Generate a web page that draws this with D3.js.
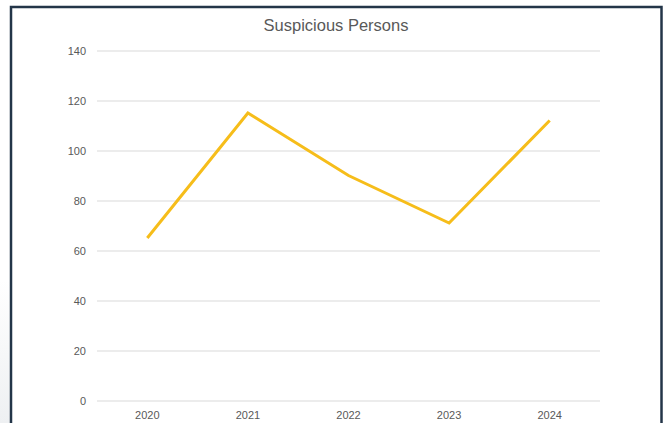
<!DOCTYPE html>
<html>
<head>
<meta charset="utf-8">
<script src="https://cdn.jsdelivr.net/npm/d3@7"></script>
<style>
body { margin: 0; background: #fff; }
svg { display: block; }
.tick text { fill: #595959; font-family: "Helvetica Neue", Arial, "Liberation Sans", sans-serif; }
</style>
</head>
<body>
<svg id="chart"></svg>
<script>
var width = 664;
var height = 423;

var years = ["2020", "2021", "2022", "2023", "2024"];
var counts = [65, 115, 90, 71, 112];
var yTicks = [0, 20, 40, 60, 80, 100, 120, 140];

var plotLeft = 97, plotRight = 600, plotTop = 50.5, plotBottom = 400.5;

var svg = d3.select("#chart")
	.attr("width", width)
	.attr("height", height);

// faint shadow lower left
var grad = svg.append("defs").append("linearGradient")
	.attr("id", "shade").attr("x1", 0).attr("y1", 0).attr("x2", 0).attr("y2", 1);
grad.append("stop").attr("offset", "0%").attr("stop-color", "#fff");
grad.append("stop").attr("offset", "100%").attr("stop-color", "#eef0f2");
svg.append("rect")
	.attr("x", 0).attr("y", 280)
	.attr("width", 11).attr("height", 143)
	.attr("fill", "url(#shade)");

// frame
svg.append("rect")
	.attr("x", 11).attr("y", 7)
	.attr("width", 650.5).attr("height", 430)
	.attr("fill", "#fff")
	.attr("stroke", "#233548")
	.attr("stroke-width", 2.5);

var x = d3.scaleBand()
	.domain(years)
	.range([plotLeft, plotRight]);

var y = d3.scaleLinear()
	.domain([0, 140])
	.range([plotBottom, plotTop]);

var yAxis = svg.append("g")
	.attr("transform", "translate(" + plotLeft + ",0)")
	.call(d3.axisLeft(y).tickValues(yTicks).tickSize(-(plotRight - plotLeft)).tickPadding(11));
yAxis.select(".domain").remove();
yAxis.selectAll(".tick line").attr("stroke", "#d9d9d9").attr("stroke-width", 1);
yAxis.selectAll(".tick text").attr("font-size", 11);

var xAxis = svg.append("g")
	.attr("transform", "translate(0," + plotBottom + ")")
	.call(d3.axisBottom(x).tickSize(0).tickPadding(10.5));
xAxis.select(".domain").remove();
xAxis.selectAll(".tick text").attr("font-size", 11);

var line = d3.line()
	.x(function(d, i) { return x(years[i]) + x.bandwidth() / 2; })
	.y(function(d) { return y(d); });

svg.append("path")
	.datum(counts)
	.attr("fill", "none")
	.attr("stroke", "#f6bd1a")
	.attr("stroke-width", 3)
	.attr("stroke-linejoin", "miter")
	.attr("d", line);

svg.append("text")
	.attr("x", 336)
	.attr("y", 31)
	.attr("text-anchor", "middle")
	.attr("font-family", "\"Helvetica Neue\", Arial, \"Liberation Sans\", sans-serif")
	.attr("font-size", 16.5)
	.attr("fill", "#595959")
	.text("Suspicious Persons");
</script>
</body>
</html>
